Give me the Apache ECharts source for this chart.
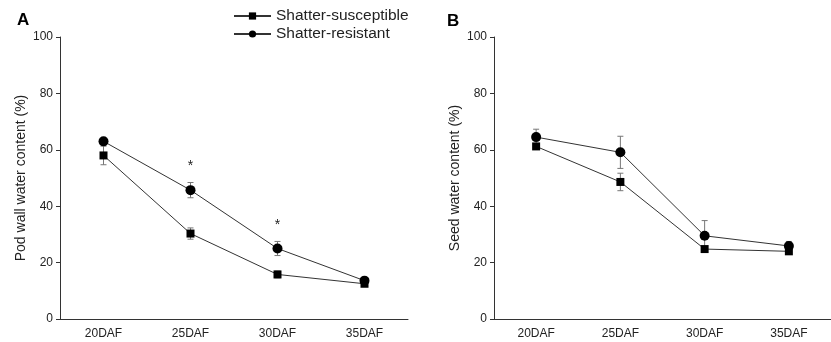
<!DOCTYPE html>
<html>
<head>
<meta charset="utf-8">
<script src="https://cdn.jsdelivr.net/npm/echarts@6/dist/echarts.min.js"></script>
<style>
  html, body { margin: 0; padding: 0; background: #fff; }
  #chart { width: 831px; height: 342px; }
</style>
</head>
<body>
<div id="chart"></div>
<script>
// categories
const stages = ['20DAF', '25DAF', '30DAF', '35DAF'];

// panel A: pod wall water content (%)
const podSusceptible = [58.0, 30.3, 15.8, 12.5];
const podSusceptibleErr = [3.3, 2.0, 1.2, 1.0];
const podResistant = [63.0, 45.7, 25.0, 13.6];
const podResistantErr = [0.8, 2.7, 2.5, 1.0];
const podSig = ['', '*', '*', ''];

// panel B: seed water content (%)
const seedSusceptible = [61.2, 48.6, 24.8, 24.0];
const seedSusceptibleErr = [0.8, 3.1, 0.9, 0.8];
const seedResistant = [64.5, 59.1, 29.5, 25.9];
const seedResistantErr = [2.8, 5.7, 5.4, 1.6];

const yTicks = [0, 20, 40, 60, 80, 100];

const axisColor = '#333';
const font = 'Liberation Sans, Arial, sans-serif';

function errBars(values, errs, idx) {
  return {
    type: 'custom',
    xAxisIndex: idx, yAxisIndex: idx,
    silent: true, z: 1,
    data: values.map((v, i) => [i, v - errs[i], v + errs[i]]),
    renderItem: function (params, api) {
      const lo = api.coord([api.value(0), api.value(1)]);
      const hi = api.coord([api.value(0), api.value(2)]);
      const cap = 3;
      const style = { stroke: '#777', lineWidth: 1 };
      return {
        type: 'group',
        children: [
          { type: 'line', shape: { x1: lo[0], y1: lo[1], x2: hi[0], y2: hi[1] }, style: style },
          { type: 'line', shape: { x1: lo[0] - cap, y1: lo[1], x2: lo[0] + cap, y2: lo[1] }, style: style },
          { type: 'line', shape: { x1: hi[0] - cap, y1: hi[1], x2: hi[0] + cap, y2: hi[1] }, style: style }
        ]
      };
    }
  };
}

function sigMarks(values, errs, marks, idx) {
  return {
    type: 'custom',
    xAxisIndex: idx, yAxisIndex: idx,
    silent: true,
    data: values.map((v, i) => [i, v + errs[i], marks[i]]),
    renderItem: function (params, api) {
      const t = marks[params.dataIndex];
      if (!t) return null;
      const p = api.coord([api.value(0), api.value(1)]);
      return {
        type: 'text',
        style: { text: t, x: p[0], y: p[1] - 9, align: 'center', verticalAlign: 'bottom',
                 fill: '#222', font: '14px ' + font }
      };
    }
  };
}

function lineSeries(name, data, symbol, size, idx) {
  return {
    name: name, type: 'line', data: data,
    xAxisIndex: idx, yAxisIndex: idx,
    symbol: symbol, symbolSize: size,
    itemStyle: { color: '#000' },
    lineStyle: { color: '#333', width: 1 },
    z: 3
  };
}

function xAxis(idx) {
  return {
    type: 'category', gridIndex: idx, data: stages,
    axisLine: { lineStyle: { color: axisColor } },
    axisTick: { alignWithLabel: true, length: 4, lineStyle: { color: axisColor } },
    axisLabel: { color: '#222', fontSize: 12, fontFamily: font, margin: 9 }
  };
}

function yAxis(idx, name) {
  return {
    type: 'value', gridIndex: idx, min: 0, max: 100, interval: 20,
    name: name, nameLocation: 'middle', nameGap: 32,
    nameTextStyle: { color: '#222', fontSize: 14, fontFamily: font },
    axisLine: { show: true, lineStyle: { color: axisColor } },
    axisTick: { show: true, length: 4, lineStyle: { color: axisColor } },
    axisLabel: { color: '#222', fontSize: 12, fontFamily: font, margin: 7,
      formatter: v => yTicks.includes(v) ? String(v) : '' },
    splitLine: { show: false }
  };
}

const chart = echarts.init(document.getElementById('chart'));
chart.setOption({
  backgroundColor: '#fff',
  animation: false,
  textStyle: { fontFamily: font },
  title: [
    { text: 'A', left: 17, top: 12, padding: 0, textStyle: { fontSize: 17, fontWeight: 'bold', color: '#000', fontFamily: font } },
    { text: 'B', left: 447, top: 13, padding: 0, textStyle: { fontSize: 17, fontWeight: 'bold', color: '#000', fontFamily: font } }
  ],
  legend: {
    left: 233, top: 8, orient: 'vertical', itemGap: 2, padding: 0,
    itemWidth: 37, itemHeight: 9,
    textStyle: { fontSize: 15.5, color: '#222', fontFamily: font },
    data: ['Shatter-susceptible', 'Shatter-resistant']
  },
  grid: [
    { left: 60, top: 37, width: 348, height: 282 },
    { left: 494, top: 37, width: 349, height: 282 }
  ],
  xAxis: [xAxis(0), xAxis(1)],
  yAxis: [yAxis(0, 'Pod wall water content (%)'), yAxis(1, 'Seed water content (%)')],
  series: [
    errBars(podSusceptible, podSusceptibleErr, 0),
    errBars(podResistant, podResistantErr, 0),
    lineSeries('Shatter-susceptible', podSusceptible, 'rect', 8, 0),
    lineSeries('Shatter-resistant', podResistant, 'circle', 10, 0),
    sigMarks(podResistant, podResistantErr, podSig, 0),
    errBars(seedSusceptible, seedSusceptibleErr, 1),
    errBars(seedResistant, seedResistantErr, 1),
    lineSeries('Shatter-susceptible', seedSusceptible, 'rect', 8, 1),
    lineSeries('Shatter-resistant', seedResistant, 'circle', 10, 1)
  ]
});
</script>
</body>
</html>
